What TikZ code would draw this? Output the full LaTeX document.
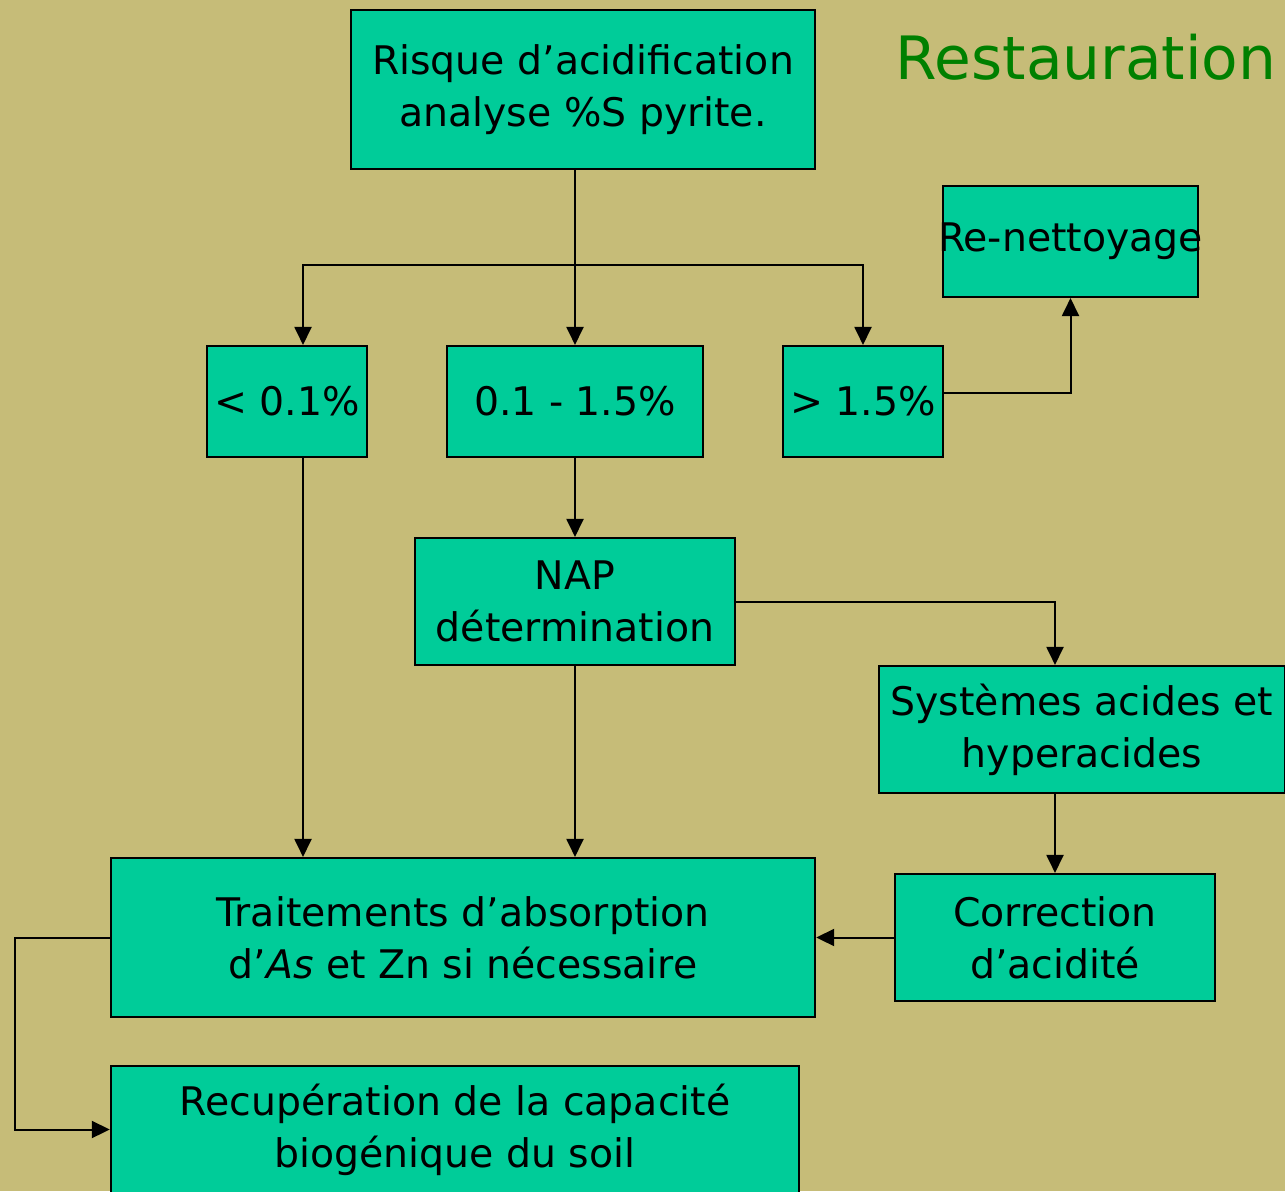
\documentclass[tikz,border=0pt]{standalone}
\usepackage{fontspec}
\setmainfont{DejaVu Sans}
\usetikzlibrary{arrows.meta}
\definecolor{bgkhaki}{HTML}{C6BC78}
\definecolor{boxgreen}{HTML}{00CC99}
\definecolor{titlegreen}{HTML}{008000}
\tikzset{
  stepbox/.style={draw=black, fill=boxgreen, line width=0.02cm, inner sep=0pt, align=center, font=\fontsize{11.2}{14.8}\selectfont},
  flow/.style={line width=0.02cm, -{Triangle[length=0.18cm,width=0.17cm]}},
}

\begin{document}
\begin{tikzpicture}[x=0.01cm,y=0.01cm]
\fill[bgkhaki] (0,0) rectangle (1285,-1191);
\useasboundingbox (0,0) rectangle (1285,-1191);

%title
\node[text=titlegreen, font=\fontsize{17}{20}\selectfont, anchor=base] (title) at (1086,-80) {Restauration};

%boxes
\node[stepbox, minimum width=4.64cm, minimum height=1.59cm] (risk) at (583,-89.5) {Risque d'acidification\\analyse \%S pyrite.};
\node[stepbox, minimum width=2.55cm, minimum height=1.11cm] (renet) at (1070.5,-241.5) {\makebox[2.3cm]{Re-nettoyage}};
\node[stepbox, minimum width=1.60cm, minimum height=1.11cm] (low) at (287,-401.5) {< 0.1\%};
\node[stepbox, minimum width=2.56cm, minimum height=1.11cm] (mid) at (575,-401.5) {0.1 - 1.5\%};
\node[stepbox, minimum width=1.60cm, minimum height=1.11cm] (high) at (863,-401.5) {> 1.5\%};
\node[stepbox, minimum width=3.20cm, minimum height=1.27cm] (nap) at (575,-601.5) {NAP\\détermination};
\node[stepbox, minimum width=4.06cm, minimum height=1.27cm] (sys) at (1082,-729.5) {Systèmes acides et\\hyperacides};
\node[stepbox, minimum width=3.20cm, minimum height=1.27cm] (corr) at (1055,-937.5) {Correction\\d'acidité};
\node[stepbox, minimum width=7.04cm, minimum height=1.59cm] (treat) at (463,-937.5) {Traitements d'absorption\\d'\textit{As} et Zn si nécessaire};
\node[stepbox, minimum width=6.88cm, minimum height=1.27cm] (recup) at (455,-1129.5) {Recupération de la capacité\\biogénique du soil};

%split under the risk box
\coordinate (split) at (575,-265);
\draw[flow] (risk.south -| mid.north) -- (mid.north);
\draw[flow] (split) -| ([xshift=0.16cm]low.north);
\draw[flow] (split) -| (high.north);
\draw[flow] ([yshift=0.085cm]high.east) -| (renet.south);

%down to the treatments
\draw[flow] ([xshift=0.16cm]low.south) -- ([xshift=0.16cm]low.south |- treat.north);
\draw[flow] (mid.south) -- (nap.north);
\draw[flow] (nap.south) -- (nap.south |- treat.north);

%acid branch
\draw[flow] (nap.east) -| (corr.north |- sys.north);
\draw[flow] (sys.south -| corr.north) -- (corr.north);
\draw[flow] (corr.west) -- (treat.east);

%loop to the last box
\coordinate (bend) at (15,-937.5);
\draw[flow] (treat.west) -- (bend) |- (recup.west);
\end{tikzpicture}
\end{document}
